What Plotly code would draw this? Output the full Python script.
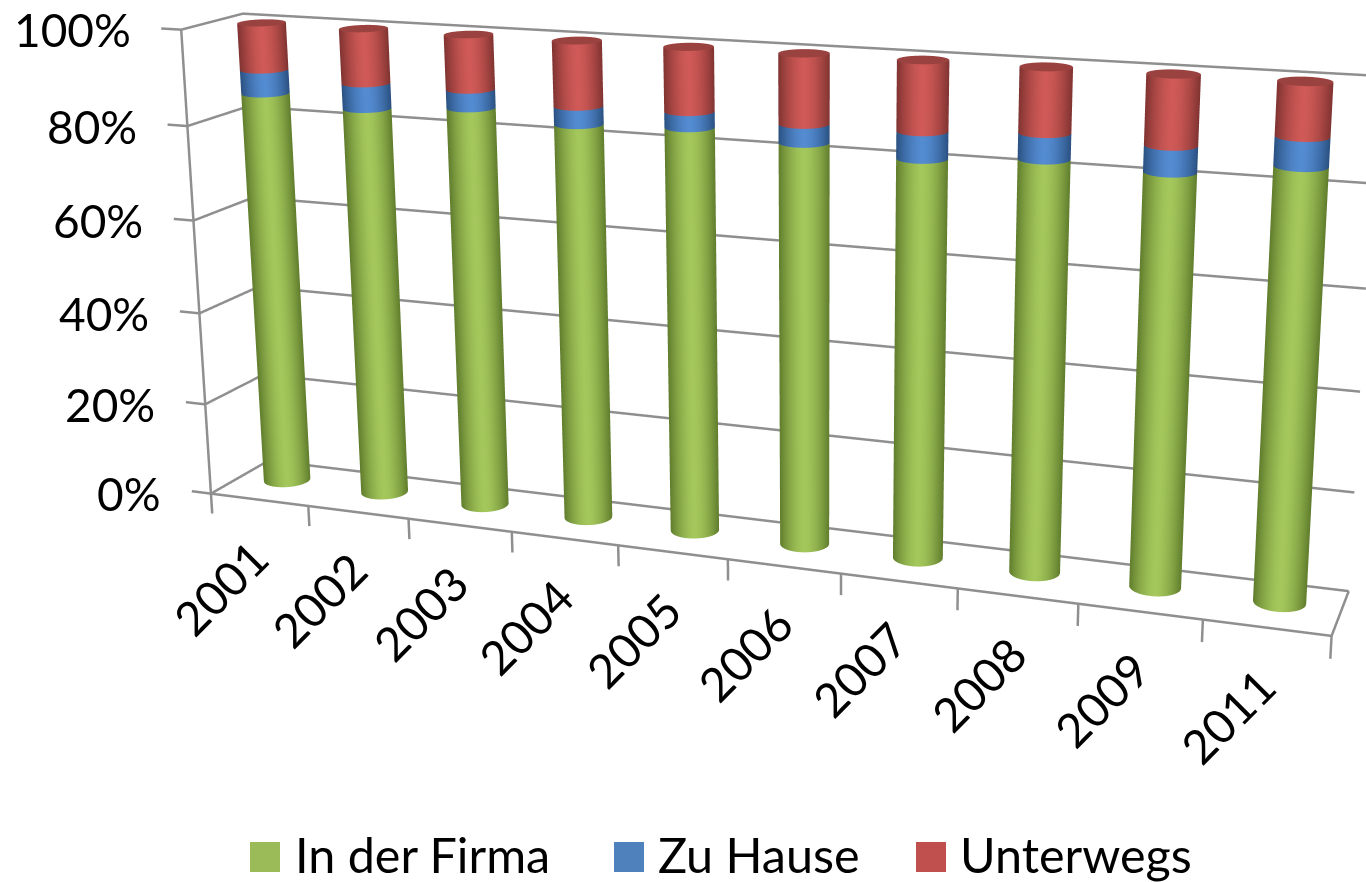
import numpy as np
import plotly.graph_objects as go

# ---- data (percent) ----
years = ["2001", "2002", "2003", "2004", "2005", "2006", "2007", "2008", "2009", "2011"]
in_der_firma = [85.2, 83.4, 85.0, 83.1, 84.0, 82.5, 81.0, 82.5, 81.7, 84.4]
zu_hause = [5.0, 5.3, 3.8, 3.7, 3.2, 3.7, 5.3, 5.0, 5.0, 5.5]
unterwegs = [9.8, 11.3, 11.2, 13.2, 12.8, 13.8, 13.7, 12.5, 13.3, 10.1]
series_names = ["In der Firma", "Zu Hause", "Unterwegs"]
z_ticks = [0, 20, 40, 60, 80, 100]
z_tick_labels = ["0%", "20%", "40%", "60%", "80%", "100%"]

# ---- styles ----
PALETTES = [((0x5f, 0x7c, 0x2c), (0xa5, 0xc8, 0x5c)),
            ((0x2a, 0x50, 0x80), (0x54, 0x8c, 0xd2)),
            ((0x7f, 0x33, 0x31), (0xd0, 0x5a, 0x57))]
CAP_RGB = (0x9a, 0x42, 0x40)
SWATCH = ["#9bbb59", "#4f81bd", "#c0504d"]
GRID = "#8f8f8f"
FONT = "Lato"
FIG_W, FIG_H = 1600, 2071
SHIFT_TOP = 757

# ---- camera geometry (box shape + eye) ----
k = 2.0
ux, uy, uz = k * 0.04422 * 0.9955, k * 0.0388 * 1.12, k * 0.001856
x0, x1 = -0.3, 10.1
y0, y1 = -0.02, 1.02
z0, z1 = -6.0, 104.0
mid = np.array([ux * (x0 + x1) / 2, uy * (y0 + y1) / 2, uz * (z0 + z1) / 2])
eye_w = k * np.array([0.5372, -0.8076, 0.3311]) + np.array([-0.0032, 0.0, -0.0008])
eye = eye_w - mid
forward = np.array([-0.3229, 0.9084, -0.249])
center = eye + forward * np.linalg.norm(eye)
up = np.array([-0.0837, 0.2409, 0.9685])

fig = go.Figure()

# gridlines on the two walls, frame, ticks: one line trace with gaps
lx, ly, lz = [], [], []


def seg(xs, ys, zs):
    lx.extend(list(xs) + [None])
    ly.extend(list(ys) + [None])
    lz.extend(list(zs) + [None])


for v in z_ticks:
    seg([-0.2, 0, 0, 10], [0, 0, 1, 1], [v, v, v, v])
seg([0, 0], [0, 0], [0, 100])
seg([0, 10, 10], [0, 0, 1], [0, 0, 0])
for i in range(len(years) + 1):
    seg([i, i], [0, 0], [0, -4.5])
fig.add_trace(go.Scatter3d(x=lx, y=ly, z=lz, mode="lines", showlegend=False, hoverinfo="skip",
                           line=dict(color=GRID, width=5)))

# cylinders: one mesh per series
R_WORLD = 0.0092 * k
BAR_Y = 0.57
N = 48
theta = np.linspace(0, 2 * np.pi, N, endpoint=False)
rx, ry = R_WORLD / ux, R_WORLD / uy


def rgb(c):
    return "rgb(%d,%d,%d)" % tuple(int(round(v)) for v in c)


def mesh(bottoms, tops, pal, name, cap):
    X, Y, Z, C, I, J, K = [], [], [], [], [], [], []
    for i, (lo, hi) in enumerate(zip(bottoms, tops)):
        xc, yc = i * 1.0067 + 0.45, BAR_Y
        vx, vy = eye_w[0] - xc * ux, eye_w[1] - yc * uy
        n = np.hypot(vx, vy)
        s = np.clip((np.cos(theta) * vx + np.sin(theta) * vy) / n, 0, 1)
        s = 1 - (1 - s * s) ** 0.8
        base = len(X)
        for t, sv in zip(theta, s):
            col = rgb(np.array(pal[0]) + (np.array(pal[1]) - np.array(pal[0])) * sv)
            for zv in (lo, hi):
                X.append(xc + rx * np.cos(t))
                Y.append(yc + ry * np.sin(t))
                Z.append(zv)
                C.append(col)
        for a in range(N):
            b = (a + 1) % N
            p, q, r, u = base + 2 * a, base + 2 * a + 1, base + 2 * b, base + 2 * b + 1
            I += [p, q]
            J += [r, r]
            K += [q, u]
        if cap:
            c0 = len(X)
            X.append(xc), Y.append(yc), Z.append(hi), C.append(rgb(CAP_RGB))
            for t in theta:
                X.append(xc + rx * np.cos(t))
                Y.append(yc + ry * np.sin(t))
                Z.append(hi)
                C.append(rgb(CAP_RGB))
            for a in range(N):
                I.append(c0)
                J.append(c0 + 1 + a)
                K.append(c0 + 1 + (a + 1) % N)
    fig.add_trace(go.Mesh3d(x=X, y=Y, z=Z, i=I, j=J, k=K, vertexcolor=C, name=name, hoverinfo="skip",
                            flatshading=False, showscale=False,
                            lighting=dict(ambient=1, diffuse=0, specular=0, fresnel=0, roughness=1)))


a_top = list(in_der_firma)
b_top = [a + b for a, b in zip(a_top, zu_hause)]
c_top = [a + b for a, b in zip(b_top, unterwegs)]
mesh([0] * len(years), a_top, PALETTES[0], series_names[0], False)
mesh(a_top, b_top, PALETTES[1], series_names[1], False)
mesh(b_top, c_top, PALETTES[2], series_names[2], True)

# labels
ann = []
for v, t in zip(z_ticks, z_tick_labels):
    ann.append(dict(x=0, y=0, z=v, text=t, showarrow=False, xanchor="right", yanchor="middle",
                    xshift=-48, font=dict(family=FONT, size=46, color="black")))
for i, yr in enumerate(years):
    ann.append(dict(x=i + 0.5, y=0, z=0, text=yr, showarrow=False, textangle=-45,
                    xanchor="center", yanchor="middle", xshift=-39, yshift=-88,
                    font=dict(family=FONT, size=47, color="black")))


# legend in page pixels
def px(x):
    return x / FIG_W


def py(y):
    return 1 - (y + SHIFT_TOP) / FIG_H


shapes = []
annots = []
for name, col, sx, tx in zip(series_names, SWATCH, [250, 614, 916], [293, 656, 958]):
    shapes.append(dict(type="rect", xref="paper", yref="paper", x0=px(sx), x1=px(sx + 30),
                       y0=py(872), y1=py(842), fillcolor=col, line=dict(width=0)))
    annots.append(dict(xref="paper", yref="paper", x=px(tx), y=py(854), text=name, showarrow=False,
                       xanchor="left", yanchor="middle", font=dict(family=FONT, size=48.5, color="black")))

hidden = dict(visible=False, autorange=False, showgrid=False, zeroline=False, showbackground=False)
fig.update_layout(
    width=FIG_W, height=FIG_H, margin=dict(l=0, r=0, t=0, b=0, pad=0, autoexpand=False),
    paper_bgcolor="white", showlegend=False, shapes=shapes, annotations=annots,
    scene=dict(
        domain=dict(x=[0, 1], y=[0, 1]), bgcolor="white", dragmode="orbit",
        xaxis=dict(range=[x0, x1], **hidden),
        yaxis=dict(range=[y0, y1], **hidden),
        zaxis=dict(range=[z0, z1], **hidden),
        aspectmode="manual",
        aspectratio=dict(x=ux * (x1 - x0), y=uy * (y1 - y0), z=uz * (z1 - z0)),
        camera=dict(eye=dict(x=eye[0], y=eye[1], z=eye[2]),
                    center=dict(x=center[0], y=center[1], z=center[2]),
                    up=dict(x=up[0], y=up[1], z=up[2]),
                    projection=dict(type="perspective")),
        annotations=ann,
    ),
)
post = ("var g=document.getElementById('{plot_id}');"
        "document.documentElement.style.overflow='hidden';document.body.style.overflow='hidden';"
        "document.body.style.margin='0';g.style.marginTop='-%dpx';" % SHIFT_TOP)
fig.write_html("out.html", post_script=post)
